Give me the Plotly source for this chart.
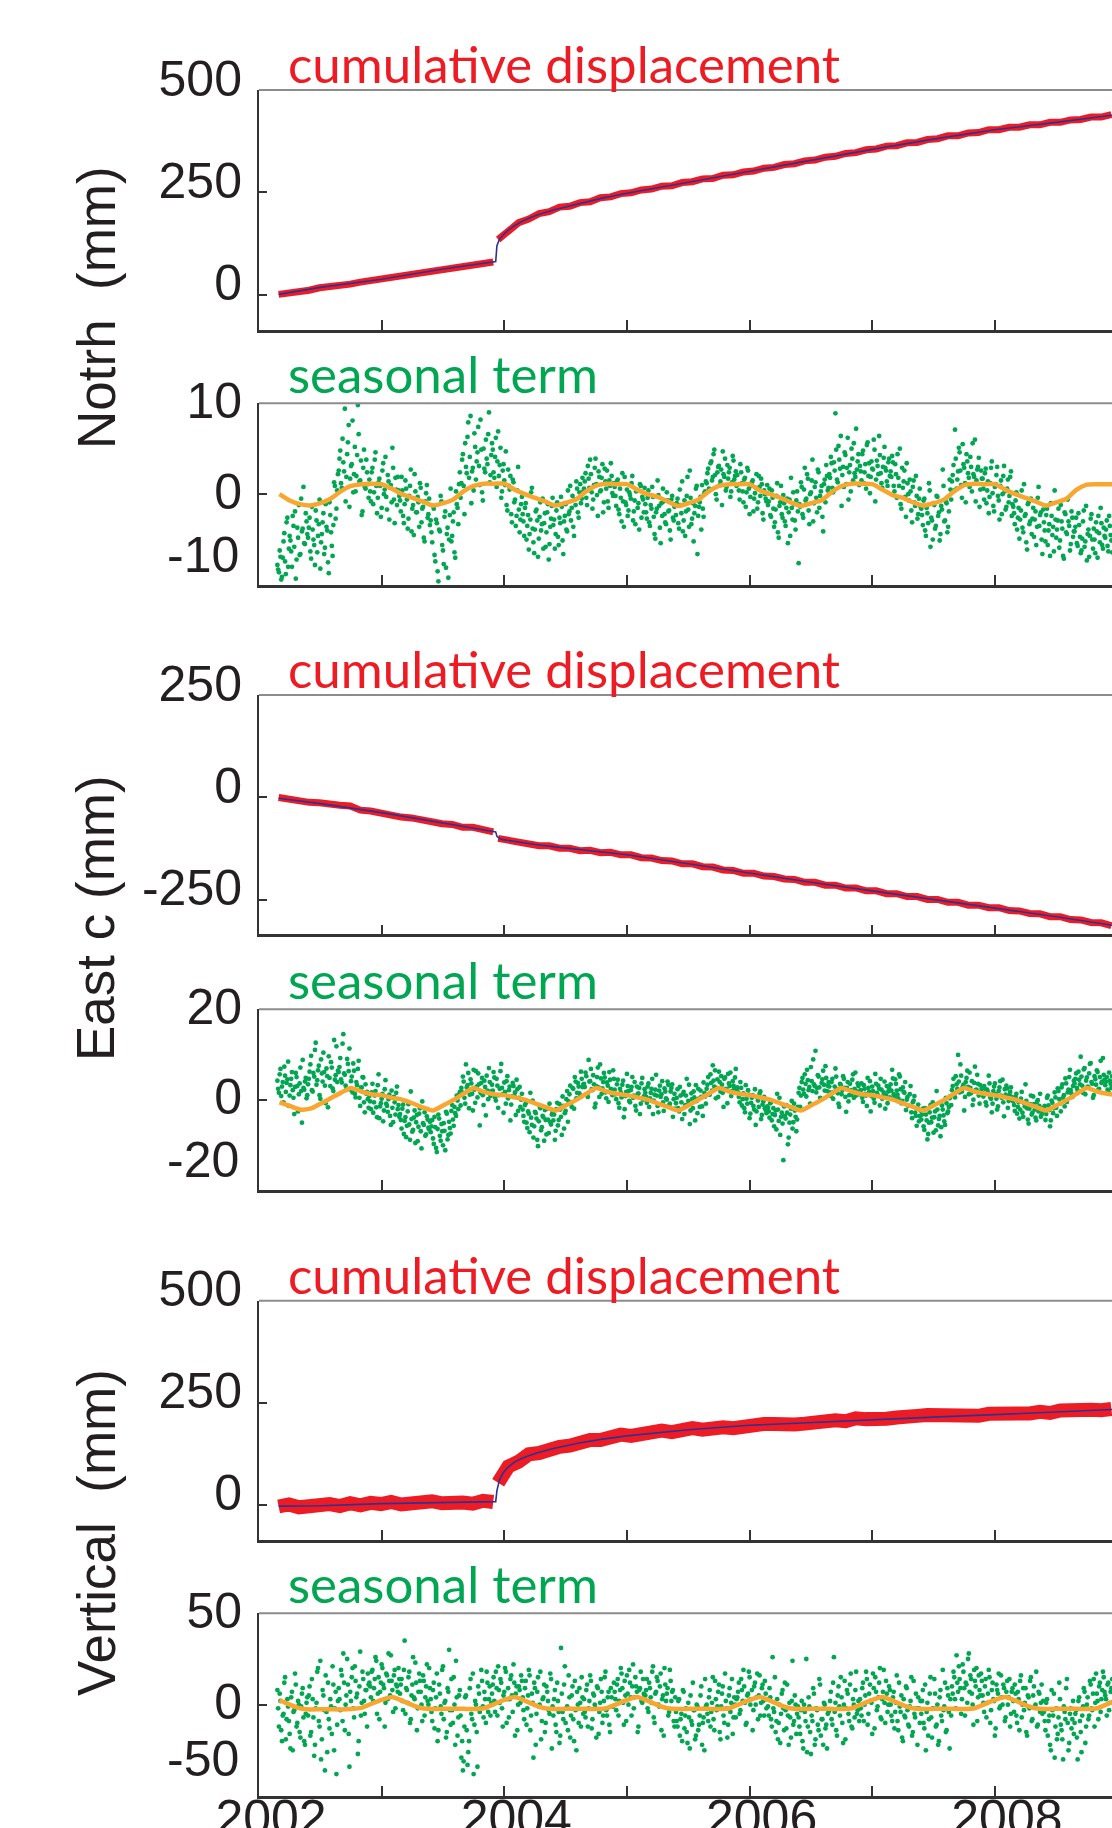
import plotly.graph_objects as go

# ------------------------------------------------------------------ data
YEARS = [2002, 2003, 2004, 2005, 2006, 2007, 2008, 2009]
YEAR_LABELS = ["2002", "", "2004", "", "2006", "", "2008", ""]

# blue: fitted trend + post-seismic model (mm)
model_t = [2002.16, 2002.5, 2003.0, 2003.5, 2003.93, 2003.94, 2003.96, 2003.99,
           2004.03, 2004.08, 2004.15, 2004.25, 2004.4, 2004.6, 2004.8, 2005.0,
           2005.5, 2006.0, 2006.5, 2007.0, 2007.5, 2008.0, 2008.5, 2009.0]
north_model = [1, 18, 38, 63, 81, 120, 135, 146, 157, 168, 180, 193, 207, 222,
               236, 248, 275, 301, 328, 355, 380, 403, 421, 440]
east_model = [-2, -15, -37, -62, -84, -95, -100, -103, -105, -108, -111, -115,
              -120, -127, -133, -140, -162, -185, -207, -228, -249, -269, -291, -314]
vert_model = [-3, -2, 3, 6, 8, 35, 60, 78, 92, 104, 115, 126, 138, 151, 161,
              169, 184, 195, 202, 209, 215, 221, 227, 234]

# red: observed cumulative displacement, monthly samples before / after the offset
OBS_PRE_START, OBS_POST_START = 2002.16, 2003.95
north_obs_pre = [1, 3, 9, 11, 17, 19, 24, 26, 31, 35, 37, 43, 45, 50, 55, 57, 63,
                 65, 71, 72, 78, 80]
north_obs_post = [135, 156, 176, 185, 198, 203, 214, 216, 225, 227, 237, 239, 247,
                  249, 256, 258, 265, 266, 274, 276, 283, 284, 292, 293, 300, 302,
                  309, 311, 318, 320, 327, 329, 336, 338, 345, 347, 354, 356, 363,
                  364, 371, 372, 379, 381, 388, 388, 395, 396, 403, 403, 409, 409,
                  415, 415, 421, 421, 427, 428, 434, 434, 440]
east_obs_pre = [0, -5, -7, -12, -13, -18, -19, -21, -31, -33, -39, -41, -48, -50,
                -56, -59, -64, -66, -73, -73, -79, -84]
east_obs_post = [-100, -104, -112, -112, -118, -118, -124, -124, -130, -129, -135,
                 -134, -140, -140, -147, -148, -154, -155, -162, -162, -169, -170,
                 -177, -178, -185, -185, -192, -193, -199, -200, -207, -207, -214,
                 -214, -221, -221, -228, -228, -235, -235, -242, -242, -249, -249,
                 -256, -256, -263, -263, -269, -269, -276, -277, -283, -284, -291,
                 -291, -298, -299, -305, -306, -313]
vert_obs_pre = [-4, 1, -6, -3, -8, 2, -3, 4, -1, 5, 2, 7, 1, 6, 3, 9, 4, 8, 6, 3,
                10, 7]
vert_obs_post = [54, 94, 106, 124, 127, 138, 142, 145, 156, 159, 159, 166, 172, 169,
                 175, 175, 182, 178, 184, 188, 184, 190, 190, 188, 193, 198, 198,
                 198, 194, 197, 199, 203, 208, 207, 205, 212, 210, 207, 211, 214,
                 212, 218, 220, 219, 217, 215, 220, 218, 223, 222, 220, 225, 224,
                 228, 225, 231, 229, 227, 233, 232, 235]

# orange: fitted seasonal term, monthly from 2002.1667 (one row per calendar year)
FIT_START = 2002.1667
north_fit = [
    [0.0, -0.7, -1.1, -1.25, -1.0, -0.5, 0.3, 0.9, 1.1, 1.15],
    [1.1, 0.6, 0.0, -0.4, -0.8, -1.25, -1.0, -0.6, 0.3, 0.9, 1.15, 1.15],
    [1.15, 0.5, 0.0, -0.4, -0.8, -1.25, -0.95, -0.6, 0.3, 0.95, 1.15, 1.1],
    [1.1, 0.5, 0.0, -0.3, -0.8, -1.3, -1.0, -0.6, 0.3, 0.9, 1.1, 1.1],
    [1.1, 0.4, 0.0, -0.4, -0.9, -1.3, -1.0, -0.7, 0.2, 0.9, 1.15, 1.15],
    [1.1, 0.5, -0.1, -0.4, -0.9, -1.25, -1.0, -0.6, 0.3, 1.0, 1.15, 1.1],
    [1.1, 0.5, 0.0, -0.4, -0.8, -1.25, -0.9, -0.5, 0.5, 1.05, 1.1, 1.1],
    [1.1],
]
east_fit = [
    [-0.6, -1.4, -2.2, -2.0, -0.9, 0.3, 1.5, 2.6, 1.8, 1.2],
    [1.0, 0.4, 0.0, -0.8, -1.7, -2.4, -1.3, -0.1, 1.3, 2.6, 1.7, 1.2],
    [1.0, 0.5, 0.0, -0.8, -1.6, -2.4, -1.3, -0.1, 1.3, 2.6, 1.8, 1.3],
    [1.0, 0.5, 0.0, -0.8, -1.6, -2.4, -1.3, 0.0, 1.3, 2.6, 1.8, 1.3],
    [1.0, 0.5, 0.0, -0.8, -1.6, -2.4, -1.3, -0.1, 1.3, 2.6, 1.8, 1.2],
    [1.0, 0.5, 0.0, -0.8, -1.6, -2.4, -1.3, -0.1, 1.3, 2.6, 1.8, 1.3],
    [1.0, 0.5, 0.0, -0.8, -1.6, -2.4, -1.3, -0.1, 1.3, 2.6, 1.8, 1.3],
    [1.0],
]
vert_fit = [
    [2.4, 0.0, -2.0, -2.6, -2.5, -2.5, -2.6, -2.4, -1.8, 0.5],
    [2.6, 4.2, 2.2, -0.2, -2.0, -2.4, -2.3, -2.2, -2.3, -2.4, -2.0, 0.3],
    [2.6, 4.2, 2.2, -0.2, -2.0, -2.4, -2.3, -2.2, -2.3, -2.4, -2.0, 0.3],
    [2.6, 4.2, 2.2, -0.2, -2.0, -2.4, -2.3, -2.2, -2.3, -2.4, -2.0, 0.3],
    [2.6, 4.2, 2.2, -0.2, -2.0, -2.4, -2.3, -2.2, -2.3, -2.4, -2.0, 0.3],
    [2.6, 4.2, 2.2, -0.2, -2.0, -2.4, -2.3, -2.2, -2.3, -2.4, -2.0, 0.3],
    [2.6, 4.2, 2.2, -0.2, -2.0, -2.4, -2.3, -2.2, -2.3, -2.4, -2.0, 0.3],
    [2.6],
]

# green: seasonal residuals, two interleaved sample sets (A on the grid, B half a
# step later), 80 samples per year each from 2002.15; one row = a quarter year
SEAS_START, SEAS_PER_YEAR = 2002.15, 80
north_seas_a = [
    [-7.8, -8.6, -6.9, -9.1, -5.2, -7.4, -3.1, -8.0, -4.6, -6.3, -2.4, -5.8, -9.3, -3.7, -1.2, -6.6, -4.1, 0.8, -5.5, -3.0],
    [-4.8, -2.6, -7.1, -3.9, -5.6, -1.8, -6.4, -3.3, -8.2, -4.4, -2.1, -5.9, -3.6, -7.5, -0.9, -4.2, -6.8, 1.3, -2.7, 0.4],
    [2.6, 4.8, 0.7, 3.5, 9.4, 1.9, 5.7, -1.4, 3.1, 8.1, 2.2, 0.3, 4.3, 6.6, 1.5, -2.3, 2.9, 0.8, 3.8, 1.1],
    [1.6, -0.8, 2.9, 0.2, 4.6, -2.1, 1.3, 0.9, -1.5, 3.4, 0.5, -0.3, 2.1, -2.8, 1.0, 5.1, -0.6, 1.8, -1.2, 0.4],
    [-0.7, 1.9, -2.4, -1.1, 0.6, -3.8, -0.2, 2.7, -1.6, -4.5, 0.3, -2.0, -0.9, 1.2, -3.1, -1.4, -5.2, 0.1, -2.6, -0.5],
    [-2.9, -5.3, -1.6, -7.4, -3.2, -9.6, -4.1, -0.8, -6.2, -2.5, -8.1, -3.7, -5.0, 0.6, -4.6, -2.0, -7.0, -1.1, -3.3, 2.4],
    [1.2, 4.4, -2.2, 3.0, 6.3, 1.8, 8.6, 2.5, 0.4, 5.2, 3.6, 7.4, 1.0, 4.9, -0.7, 2.8, 6.0, 3.3, 9.0, 2.1],
    [5.6, 2.4, 4.1, 0.8, 6.9, 3.2, -0.4, 2.6, 1.5, 4.7, -1.8, 0.9, 2.0, -3.1, 1.3, -0.6, -2.4, 3.0, -4.2, -1.1],
    [-2.2, -4.6, -1.0, -3.5, -6.1, -2.8, 0.7, -5.3, -3.9, -1.7, -6.9, -2.5, -4.0, -0.5, -3.2, -5.8, -2.0, -7.2, -3.6, -1.3],
    [-3.4, -6.0, -1.8, -4.7, -2.6, -0.3, -5.1, -3.0, -1.1, -4.1, -2.2, 0.9, -1.5, -3.6, -0.6, 1.4, -2.0, 0.2, -1.0, 1.8],
    [0.6, 2.3, -1.2, 1.7, 3.8, 0.2, -0.6, 2.9, 1.1, -2.4, 1.9, 0.4, 3.3, -0.9, 1.4, 2.6, -1.5, 0.9, 2.0, -0.2],
    [0.8, -1.3, 1.6, -2.2, -0.4, 2.3, -3.6, -0.9, 0.5, -1.8, -0.1, 1.2, -2.9, -0.7, 0.3, -1.5, -3.9, 0.9, -0.3, -2.0],
    [-1.1, -2.7, 0.4, -3.5, -1.6, -0.3, -4.4, -2.0, 1.5, -1.3, -5.4, -2.4, -0.8, -3.1, 0.2, -1.9, -4.0, -0.6, -2.6, -1.4],
    [-2.3, -0.5, -3.8, -1.2, 1.4, -2.9, -4.6, -0.2, -1.7, 2.6, -3.3, -1.0, -2.1, 0.6, -6.6, -1.4, -0.3, 1.0, -2.5, 0.3],
    [1.2, 2.8, 0.5, 3.6, 1.9, 4.9, 0.0, 2.4, 3.1, 1.4, -1.2, 2.2, 3.9, 0.8, 1.7, 2.9, 0.3, 4.2, 1.6, 2.5],
    [2.1, 0.4, 3.3, 1.2, -0.9, 1.8, 0.2, 2.6, -2.2, 0.9, 1.5, -0.5, 0.7, -1.6, 2.0, -0.2, 1.1, -2.8, 0.0, -0.8],
    [-1.2, 0.6, -2.5, -0.4, -3.6, -1.7, 1.2, -4.8, -0.9, -2.2, -0.1, -3.0, -1.5, -5.4, -0.6, 1.8, -2.8, -1.1, -3.9, 0.3],
    [-7.6, -1.4, 0.8, -2.6, 2.9, -0.5, 1.7, -3.3, 0.2, 3.8, -1.0, 1.3, -2.0, 2.4, -0.2, 0.9, -4.1, 1.6, 3.2, 0.4],
    [2.2, 4.1, 0.7, 3.5, 8.9, 1.6, 5.3, 2.8, -1.3, 3.0, 4.6, 1.1, 6.2, 2.4, 0.3, 3.9, 5.6, 1.9, 2.7, 4.4],
    [3.1, 1.5, 4.8, 2.4, 0.6, 5.7, 3.4, 1.9, 2.8, 6.0, -0.8, 3.7, 2.2, 4.3, 1.2, 3.0, 5.2, 2.6, 0.9, 3.9],
    [2.5, 4.2, 0.9, 3.3, -0.4, 1.8, 5.0, -1.6, 0.7, 2.6, -2.5, 1.2, -0.7, 0.3, -3.1, 1.5, -1.3, -0.2, -2.2, 0.6],
    [-1.6, -3.4, -0.5, -4.6, -2.1, 1.2, -5.8, -2.9, -1.0, -3.8, -0.2, -2.4, -5.1, -1.3, 2.7, -3.0, -0.8, -4.2, -1.9, 0.5],
    [1.4, 3.2, 7.1, 0.6, 2.5, 4.6, 1.0, 5.5, 2.9, -0.9, 3.6, 1.8, 4.1, 0.3, 2.2, 6.0, 1.5, 3.0, -1.4, 2.6],
    [1.7, -0.6, 2.8, 0.4, -2.1, 1.2, 3.6, -1.3, 0.8, 2.1, -0.2, -2.8, 1.5, 0.0, 3.1, -1.7, 0.6, -0.9, 1.9, -2.4],
    [-1.4, -3.3, 0.2, -2.6, -4.9, -1.8, -3.7, 1.1, -2.2, -6.1, -0.9, -3.0, -4.4, -1.5, -2.8, -5.6, -0.4, -3.5, -2.0, -6.6],
    [-3.1, -5.2, -1.6, -4.0, -6.8, -2.4, -3.6, 0.4, -4.8, -2.9, -5.9, -1.2, -3.8, -7.1, -2.2, -4.4, -3.0, -6.2, -1.9, -4.7],
    [-4.1, -2.6, -5.7, -3.4, -6.5, -4.9, -1.8, -5.2, -7.3, -3.9, -4.6, -2.2, -6.0, -5.0, -3.1, -7.0, -4.3, -1.5, -5.6, -3.7],
    [-4.8, -2.9, -6.3, -3.5, -5.1],
]
north_seas_b = [
    [-8.3, -6.2, -9.4, -7.0, -4.3, -8.8, -2.6, -6.0, -5.1, -8.0, -3.5, -1.9, -7.2, -4.8, -6.7, -0.5, -3.8, -5.4, -2.1, -4.4],
    [-3.7, -6.3, -1.4, -5.0, -7.8, -2.9, -4.6, -0.6, -5.3, -3.1, -6.6, -1.1, -4.0, -8.7, -2.3, -5.7, -3.4, 0.9, -1.6, 2.2],
    [3.9, 1.2, 6.1, 2.5, -0.8, 4.4, 7.6, 1.7, 3.3, 0.2, 5.2, 2.0, 9.8, 1.4, 3.7, -1.9, 4.9, 0.6, 2.4, -0.4],
    [0.3, 2.4, -1.1, 3.8, 0.9, -0.4, 1.7, -2.5, 2.6, 0.0, 4.1, -1.7, 1.4, 0.7, -0.9, 2.9, -3.2, 0.5, 1.9, -0.2],
    [-1.9, 0.4, -3.2, 1.5, -0.6, -2.7, 0.9, -4.1, -1.2, 2.2, -2.0, -0.3, -3.6, 0.7, -1.6, -4.8, -0.8, 1.0, -2.2, -3.4],
    [-4.2, -1.3, -6.7, -2.8, -8.5, -3.9, -0.2, -5.6, -7.7, -1.9, -4.4, -9.2, -2.3, -5.2, -3.0, -6.4, 0.3, -1.5, 1.1, -0.4],
    [3.8, 0.9, 5.6, 2.3, 7.9, 4.1, -1.0, 2.9, 6.7, 1.6, 4.6, 3.1, 8.2, 0.2, 5.0, 2.4, 3.9, 6.6, 1.3, 4.3],
    [4.9, 1.8, 6.2, 3.6, 2.0, 5.1, 0.3, 3.3, 1.0, -1.2, 2.7, 0.5, -2.2, 1.6, -0.9, -3.5, 0.4, -1.7, -2.8, -0.3],
    [-3.0, -1.5, -5.0, -2.3, -4.4, 0.2, -3.8, -6.5, -1.9, -2.9, -4.9, -0.9, -3.3, -6.0, -2.1, -4.2, -1.1, -5.5, -2.7, -0.4],
    [-2.8, -4.4, -0.9, -5.6, -3.2, -1.4, -6.6, -2.4, -3.9, 0.4, -1.9, -2.9, -0.2, -4.6, -1.2, 0.6, -2.6, 1.1, -0.5, 0.3],
    [1.4, -0.4, 3.1, 0.7, 2.2, -1.6, 1.0, 3.9, -0.1, 2.5, 0.3, 1.8, -2.0, 2.8, 0.6, -0.8, 1.5, 3.4, 0.1, 1.2],
    [-0.2, 1.4, -1.7, 0.6, -3.0, -0.8, 1.9, -1.2, -2.4, 0.2, -0.5, 2.0, -1.9, -3.3, 0.4, -1.0, 1.1, -2.6, -0.6, 0.7],
    [-2.0, -0.4, -3.1, -1.2, 0.8, -2.5, -4.9, -1.6, -0.1, -3.7, -1.0, 0.6, -2.2, -3.3, -0.7, -1.8, -5.0, -0.2, -2.9, -1.1],
    [-1.0, -3.2, 0.5, -2.1, -4.1, -0.7, -1.9, 1.9, -3.6, -0.4, -2.7, -5.2, -1.3, 0.9, -2.4, -0.9, -3.9, -1.6, 0.1, 1.4],
    [2.3, 0.6, 3.4, 1.5, 4.4, 2.1, -0.6, 3.0, 1.0, 2.7, 4.7, 1.9, 0.4, 3.2, 2.4, -0.3, 1.3, 3.7, 2.0, 0.9],
    [1.1, -0.6, 2.4, 0.3, 1.6, -1.4, 2.9, 0.6, -0.3, 1.3, -1.9, 0.1, 2.2, -0.9, 0.8, 1.7, -2.1, 0.4, -0.5, 1.0],
    [-0.8, -2.3, 0.4, -1.6, -3.1, -0.2, -4.2, -1.3, 0.9, -2.6, -1.0, -3.5, -0.5, -2.0, -4.6, -1.5, 0.2, -2.9, -0.7, -1.9],
    [-1.1, 1.3, -2.2, 0.5, -0.7, 2.2, -1.8, 0.0, 1.5, -3.0, 0.8, -0.4, 2.7, -1.5, 0.3, -2.5, 1.1, -0.9, 2.0, 0.7],
    [1.8, 3.4, 0.2, 2.6, 4.9, 1.3, 3.8, 6.4, 2.1, 0.8, 4.3, 2.9, -0.6, 3.2, 5.0, 1.5, 2.3, 7.2, 3.6, 1.0],
    [2.5, 4.4, 1.2, 3.3, 5.4, 2.0, 0.1, 3.6, 2.7, 4.9, 1.6, 3.1, 6.4, 2.3, 0.7, 4.0, 2.9, 1.4, 3.5, 2.0],
    [1.9, 3.5, 0.3, 2.2, 4.4, 0.9, -1.1, 2.9, 1.4, -0.3, 3.4, 0.0, 1.6, -1.8, 0.8, -0.9, 2.0, -2.7, -0.5, -1.4],
    [-2.3, -0.7, -4.0, -1.5, -3.2, 0.4, -2.6, -5.0, -1.2, -3.5, -0.3, -2.0, -4.4, -1.7, 0.9, -2.9, -1.0, -3.6, 1.6, -0.6],
    [2.1, 0.4, 3.9, 1.6, 5.1, 2.6, -0.4, 3.3, 1.2, 4.4, 2.3, 0.8, 3.0, 5.6, 1.9, -0.8, 2.7, 4.0, 0.5, 1.7],
    [0.6, 2.3, -1.0, 1.4, -0.3, 2.9, 0.1, -1.9, 1.1, 3.0, -0.7, 0.9, -2.2, 2.0, 0.3, -1.4, 1.6, -0.2, 2.5, -1.1],
    [-2.1, -0.7, -3.9, -1.5, -2.8, 0.4, -4.2, -2.4, -5.3, -1.1, -3.3, -0.5, -2.7, -4.7, -1.9, -3.6, 0.8, -2.3, -5.0, -1.7],
    [-4.0, -2.3, -5.6, -3.3, -1.0, -4.5, -6.3, -2.8, -3.9, -1.6, -5.1, -3.0, -6.8, -2.0, -4.2, -0.6, -3.5, -5.5, -2.6, -4.1],
    [-3.6, -5.4, -2.1, -4.7, -6.2, -3.0, -5.8, -1.3, -4.4, -6.9, -2.7, -5.0, -3.8, -6.5, -4.1, -2.4, -5.3, -3.2, -6.0, -4.6],
    [-3.9, -5.7, -2.4, -4.5, -6.4],
]
east_seas_a = [
    [4.2, 1.5, 6.8, 2.9, -0.6, 5.3, 3.7, 8.4, 0.9, 4.6, 2.1, -3.2, 5.9, 3.0, 1.2, 7.1, -5.1, 2.6, 4.0, 0.3],
    [3.4, 6.2, 9.7, 1.8, 5.1, 12.6, 4.3, 7.5, 0.2, 5.8, 10.4, 3.1, 6.9, -1.7, 4.8, 8.3, 2.5, 13.2, 5.4, 3.9],
    [6.1, 9.2, 3.8, 14.5, 5.5, 2.4, 7.9, 11.3, 4.1, 1.6, 6.4, 0.5, 3.2, 8.6, -1.4, 2.7, 4.9, -2.8, 1.3, 0.1],
    [0.8, -2.1, 3.5, -0.6, 1.9, -3.9, 5.6, -1.5, 0.2, -4.8, 2.3, -0.9, -2.7, 1.1, -5.6, -1.8, 0.6, -3.3, 2.9, -1.2],
    [-3.2, -6.4, -1.1, -4.7, -8.3, -2.6, -5.5, 1.8, -7.1, -4.0, -9.6, -3.4, -6.0, -1.9, -10.8, -5.2, -2.8, -7.7, -4.4, -6.6],
    [-7.2, -4.5, -9.8, -6.1, -11.6, -3.3, -8.0, -5.4, -10.1, -6.9, -2.7, -8.8, -4.9, -7.5, -1.2, -5.8, -3.0, 0.9, -2.1, 1.7],
    [2.6, 5.1, 0.4, 7.8, 3.2, -1.9, 4.5, 1.3, 6.6, -0.7, 2.9, 5.8, -5.7, 3.7, 1.0, 4.2, -3.5, 2.0, 7.0, 0.8],
    [3.3, 6.1, 0.5, 4.6, -1.8, 2.4, 7.9, 1.2, 3.8, -0.9, 5.2, 2.1, -4.6, 0.7, 3.0, 1.6, 4.4, -2.5, 2.8, 0.0],
    [-2.2, -4.9, -0.8, -6.3, -3.1, 1.5, -5.6, -8.4, -2.7, -4.2, -10.3, -1.4, -6.8, -3.6, -9.1, -4.5, -2.0, -7.4, -5.0, -3.3],
    [-4.6, -8.9, -2.1, -5.7, -1.0, -3.8, 0.7, -6.4, -2.5, 1.9, -0.4, 3.1, -1.6, 2.4, 5.0, 0.3, 3.7, 1.4, 6.2, 2.8],
    [3.5, 6.0, 1.2, 8.8, 4.1, 2.3, 5.4, -1.7, 3.0, 7.1, 0.6, 4.7, 2.5, 5.9, 1.6, 3.8, -0.5, 4.4, 2.0, 6.5],
    [2.2, 0.1, 4.4, -1.8, 1.6, 3.3, -3.9, 0.8, 5.7, 1.9, -0.6, 2.8, 0.4, 3.9, -2.4, 1.2, 2.6, -0.9, 4.8, 0.7],
    [1.5, -0.7, 3.6, 0.3, 2.4, -3.2, 1.1, 5.5, -1.4, 2.0, 0.6, 4.1, -2.5, 1.8, 0.0, 3.3, -0.9, 2.6, -3.8, 1.3],
    [-0.8, 2.3, -2.6, 0.9, -4.3, 1.7, -1.2, 4.6, -0.3, -5.4, 1.4, -1.9, 0.5, 3.2, -3.0, 0.2, 2.0, -1.5, 3.8, 0.7],
    [2.4, 5.0, 1.1, 3.7, 7.6, 2.9, 0.3, 4.5, 6.2, 1.8, 3.3, -1.6, 4.9, 2.2, 5.7, 3.0, 0.8, 4.1, 2.6, 6.8],
    [2.7, 0.6, 3.9, -1.3, 1.4, -2.8, 0.2, 2.1, -4.1, -0.7, 1.0, -2.2, -5.6, 0.5, -1.6, 1.8, -3.4, -0.4, -1.9, -3.0],
    [-1.8, -4.0, -0.6, -3.2, -5.9, -2.4, 1.3, -4.7, -7.8, -2.9, -13.4, -3.6, -1.2, -9.9, -5.1, -2.0, -6.4, -0.9, -3.8, -4.4],
    [1.5, -1.6, 3.9, 2.2, 5.6, 0.7, 4.3, 2.8, 7.2, 1.9, 3.4, 10.8, 2.6, 5.1, 0.4, 3.7, 6.4, 2.0, 4.8, 3.1],
    [2.9, 0.8, 4.6, 1.7, 6.9, 2.3, -0.9, 3.5, 1.2, 5.2, 2.6, -2.7, 3.9, 1.0, 2.1, 4.4, 0.4, 6.0, 1.8, 3.0],
    [1.3, 3.6, -0.5, 2.4, 0.9, 4.8, 1.7, -2.6, 2.9, 0.2, 5.7, 1.5, 3.1, -1.3, 2.2, 0.7, 4.0, 1.0, -0.8, 2.6],
    [3.4, 6.6, 1.2, 4.5, 2.0, 0.3, 5.1, -0.8, 2.7, 1.5, -2.3, 0.6, -1.4, 3.0, -4.1, -0.2, -2.9, -5.8, -1.1, -3.6],
    [-4.4, -2.0, -6.7, -3.3, -8.8, -5.1, -1.2, -4.0, -7.3, -2.6, 1.9, -5.7, -3.6, -6.1, -2.2, -4.8, 0.4, -3.0, -1.6, 0.8],
    [2.1, 4.6, 0.5, 3.4, 9.9, 1.6, 5.3, 2.8, -2.4, 3.9, 6.4, 1.2, 2.6, 4.1, 0.0, 7.3, 2.2, 3.5, -0.9, 1.8],
    [1.4, 3.0, -0.6, 2.2, 5.3, 0.5, -2.8, 1.9, 3.6, 0.2, -1.5, 2.7, 0.9, 4.4, -3.7, 1.1, 2.5, -0.3, 1.7, 0.6],
    [-0.4, -2.5, 1.3, -1.6, -4.2, 0.2, -2.9, -0.8, 3.4, -1.9, -5.3, -1.0, -3.3, 0.7, -2.2, -4.6, -0.1, -1.4, -3.8, -2.6],
    [-2.1, -4.5, 0.4, -1.3, -5.9, -0.2, -3.0, 1.6, -1.8, 2.5, 0.1, -2.6, 3.4, 1.0, 4.7, -0.5, 2.2, 6.6, 1.3, 3.0],
    [3.6, 5.8, 2.0, 4.4, 9.5, 3.1, 6.7, 1.2, 4.9, 2.7, 7.9, 3.9, 0.4, 5.2, 3.3, 6.1, 2.4, 8.6, 4.0, 5.5],
    [3.2, 5.0, 1.8, 4.2, 2.6],
]
east_seas_b = [
    [2.4, 5.6, 0.8, 3.9, 7.3, 1.7, 4.5, -1.4, 3.2, 6.1, 0.4, 2.8, 5.0, -2.6, 3.6, 1.9, 8.8, 2.2, 4.8, 1.0],
    [4.6, 7.8, 2.1, 5.9, 11.0, 3.3, 6.5, 1.0, 8.9, 4.0, 6.1, -0.8, 5.2, 9.6, 3.0, 7.1, 1.9, 4.4, 11.8, 6.4],
    [7.2, 4.5, 12.4, 5.8, 3.1, 9.0, 6.3, 2.2, 5.1, 8.0, 1.3, 3.9, 6.8, 0.4, 2.6, 5.0, -0.6, 3.4, 1.7, -1.8],
    [-0.4, 1.6, -2.9, 0.9, -1.7, 3.2, -4.1, -0.8, 1.3, -2.4, 4.3, -1.4, 0.1, -3.6, 2.0, -5.0, -0.6, 1.5, -2.1, -3.8],
    [-4.5, -2.0, -7.6, -3.9, -5.8, -1.0, -8.9, -4.3, -6.7, -2.4, -5.0, -9.2, -3.1, -7.0, -0.4, -5.6, -8.0, -3.7, -6.2, -4.9],
    [-5.9, -8.6, -3.8, -10.7, -6.5, -4.2, -9.1, -7.0, -5.2, -11.2, -3.1, -7.8, -6.3, -2.5, -4.4, -1.6, -3.6, -0.2, 1.1, -1.3],
    [1.6, 4.0, -0.9, 2.7, 5.9, 1.1, 3.6, -2.4, 2.2, 6.3, 0.5, 3.4, 1.5, 4.8, -1.2, 2.8, 5.3, 0.1, 3.9, 1.8],
    [2.0, 4.9, -0.2, 3.1, 1.0, 6.3, 2.6, -2.9, 1.7, 4.1, 0.3, 2.9, -1.1, 3.7, 0.9, -3.4, 2.3, 0.4, -1.6, 1.3],
    [-3.6, -1.2, -5.1, -2.6, -7.2, -4.0, -0.2, -5.9, -3.0, -8.9, -4.8, -1.9, -6.1, -3.9, -2.3, -7.7, -4.4, -0.9, -5.5, -2.8],
    [-3.3, -6.9, -0.7, -4.5, -2.2, -7.8, -1.4, -3.0, 0.1, -4.9, 1.2, -0.9, 2.6, -2.0, 4.0, 1.5, 2.9, 0.6, 4.6, 3.3],
    [2.8, 5.2, 0.6, 4.0, 6.8, 2.1, 3.4, -0.9, 5.0, 2.7, 7.8, 1.3, 3.9, 4.9, 0.3, 3.1, 6.1, 2.4, 1.0, 4.6],
    [1.2, 3.4, -0.8, 2.4, 0.5, 4.2, -2.1, 1.7, 3.0, -0.3, 2.1, 5.0, 0.9, -1.4, 2.9, 1.4, -3.2, 3.6, 0.0, 2.3],
    [0.6, 2.9, -1.6, 1.5, 4.6, -0.2, 2.2, 0.9, -2.8, 3.1, 1.2, -0.6, 2.5, 0.3, 4.0, -1.2, 1.8, 3.4, 0.1, -2.0],
    [0.4, -1.9, 2.8, -0.6, 1.2, -3.2, 0.9, -1.2, 3.3, -2.4, 0.1, 1.8, -4.6, -0.3, 2.4, -1.6, 0.6, -3.6, 1.5, -0.9],
    [3.3, 1.2, 5.6, 2.0, 4.2, 6.5, 2.6, 0.6, 3.9, 5.2, 1.5, 4.6, 2.4, -0.8, 3.6, 6.0, 1.9, 3.1, 4.9, 2.2],
    [1.6, -0.6, 2.6, 0.1, -1.9, 3.2, -0.9, 1.1, -3.1, 0.4, -1.4, 2.3, -2.6, -0.2, 1.3, -4.3, -1.1, 0.6, -2.3, -1.5],
    [-2.6, -0.8, -4.6, -1.9, -3.4, -6.6, -2.2, 0.4, -3.8, -5.3, -1.5, -4.2, -2.9, -8.4, -3.3, -0.3, -5.0, -2.4, -7.0, -1.6],
    [2.6, 0.9, 4.8, 1.3, 3.5, 6.6, 2.1, -0.9, 4.1, 8.9, 3.0, 1.6, 5.4, 2.7, 0.2, 4.5, 3.3, 7.4, 1.9, 3.9],
    [1.6, 3.9, 0.2, 2.9, 5.1, 1.4, -1.6, 3.2, 2.1, 4.6, 0.6, 2.6, -0.4, 3.5, 1.1, 5.6, 2.4, 0.9, 3.6, 1.2],
    [2.1, 0.4, 3.2, 1.3, -1.4, 2.6, 4.1, 0.8, 1.9, -0.7, 3.5, 1.1, 2.4, 4.6, 0.2, 1.6, -2.0, 3.0, 1.8, 0.5],
    [2.0, 4.7, 0.6, 3.5, 1.1, 5.6, 2.3, -0.3, 1.7, 3.9, 0.0, -1.4, 1.2, -2.8, -0.6, 0.8, -3.6, -1.9, -4.8, -2.4],
    [-3.3, -5.9, -1.9, -4.6, -7.6, -2.8, -5.0, -0.6, -3.9, -6.8, -2.2, -4.3, -8.1, -1.3, -3.5, -5.6, -0.8, -2.6, 0.3, -1.2],
    [3.0, 1.1, 5.2, 2.4, 4.0, 7.8, 1.8, 3.3, 0.6, 4.8, 2.8, 6.0, 1.4, -1.2, 3.7, 2.1, 5.5, 0.9, 3.2, 2.5],
    [0.7, 2.4, -1.3, 1.6, 3.6, 0.2, -0.9, 2.9, 1.2, -2.2, 1.9, 4.1, 0.4, -0.6, 2.3, 3.1, -1.8, 1.0, 2.7, -0.2],
    [-1.2, 0.6, -3.1, -0.6, -2.2, 1.7, -3.8, -1.5, -0.3, -4.4, -2.0, 0.9, -2.9, -1.0, -4.0, -0.5, -2.6, 1.3, -3.3, -1.8],
    [-1.4, -3.2, 0.9, -2.3, -4.6, -0.7, -1.9, 0.5, -3.6, 1.9, -0.9, 2.7, 0.4, -1.5, 3.6, 1.6, 5.0, 2.1, 0.6, 4.2],
    [4.6, 2.6, 6.2, 3.4, 5.1, 1.5, 7.0, 4.2, 2.9, 5.8, 8.1, 3.5, 1.0, 4.5, 6.5, 2.2, 5.0, 3.7, 9.2, 4.4],
    [4.0, 2.2, 6.0, 3.5, 5.2],
]
vert_seas_a = [
    [8, -12, 2, -20, -5, 15, -8, -1, -16, 4, -25, -3, 11, -10, 0, -18, 6, -7, -22, 1],
    [-6, 10, -15, 3, -28, -2, 18, -9, 24, -19, 5, -36, -4, 12, -13, -1, 21, -25, 7, -11],
    [9, -3, 16, 28, -14, 5, 11, -34, 2, 20, -7, 13, 6, -20, 29, 1, 14, -5, 8, 17],
    [12, 4, 19, 9, 26, -5, 15, 7, 22, 11, -12, 17, 3, 13, 27, 8, 16, -2, 10, 20],
    [6, 14, -3, 35, 9, 1, 18, -8, 11, 4, 23, -14, 7, 13, 0, 16, -6, 10, 2, 20],
    [3, -9, 12, -2, 17, -14, 6, -5, 21, 1, -18, 9, 30, -11, -3, 15, -22, 4, -7, 8],
    [-29, -36, -12, 5, -33, -20, 14, -8, -38, 2, -15, 10, -4, 19, -1, 7, -10, 12, 3, -6],
    [6, 15, -4, 9, 21, 1, 12, -12, 7, 18, 3, -7, 14, 5, 22, -17, 10, 0, 8, 16],
    [4, -8, 13, -2, 19, -14, 6, -29, 9, -5, 15, 0, -19, 3, 11, -10, 7, -3, 17, -24],
    [-6, 8, -15, 2, -21, 31, -4, 11, -10, -1, 16, -18, 5, -8, 13, -25, 0, 9, -12, 4],
    [3, -7, 11, -2, 16, -13, 6, 0, -18, 9, -4, 14, -10, 2, 18, -6, 7, -15, 4, -1],
    [7, -3, 14, 2, 20, 9, -11, 5, 16, 0, 12, -6, 22, 4, 10, -15, 8, 18, 1, 6],
    [5, 14, -4, 9, 1, 21, -10, 7, 13, -1, 17, 3, -17, 11, 6, -6, 19, 2, 8, -12],
    [-4, -12, 3, -8, -20, 7, -6, -15, 1, -24, -9, 12, -3, -17, -1, -11, 5, -22, -7, 14],
    [0, -9, 8, -4, 15, -14, 3, -1, 11, -19, 6, -6, 17, -2, -11, 9, 1, -16, 4, -7],
    [4, 12, -3, 8, 19, 1, -10, 6, 15, 3, -14, 10, 0, 17, 5, -6, 9, 2, 13, -2],
    [-1, 9, -8, 26, -4, -15, 3, -10, -21, 6, -2, 12, -13, -6, 1, -18, 24, -9, 0, -5],
    [-7, -16, 2, -24, -4, 25, -12, -1, -27, -9, 6, -19, -3, -14, 11, -8, -22, 0, -11, -5],
    [-3, 7, -11, 26, 1, -17, 10, -6, 4, -21, 13, -2, 6, -9, 17, -13, 0, 8, -5, 2],
    [3, -6, 12, 0, 18, -11, 6, 2, -16, 9, 15, -3, 4, 20, -8, 7, 1, 13, -4, 10],
    [0, -9, 7, -4, 16, -14, -1, 5, -20, -6, 10, -3, -12, 2, -17, 13, -7, -2, 4, -10],
    [-5, 8, -13, -25, 1, -8, 15, -18, -2, 6, -11, -22, 4, -6, 19, -1, -15, 9, -4, 3],
    [10, 18, 3, 27, 7, 14, -5, 22, 9, 12, 1, 28, 16, 6, -11, 13, 20, 4, 8, 17],
    [5, -4, 14, 1, 19, -10, 8, 3, -17, 11, 6, -2, 16, 0, 9, -7, 13, 4, -12, 7],
    [2, 11, -6, 7, -14, 16, 0, -3, 9, -17, 4, 13, -9, 5, -1, 18, -11, 6, 1, -5],
    [-4, -14, 3, -9, -22, 8, -6, -29, -2, -16, 12, -11, -19, -1, -8, 14, -25, -5, -13, 2],
    [-10, -3, -30, 4, -15, -6, 9, -21, 0, -8, 13, -2, 6, -12, 17, 2, 10, -4, 8, 15],
    [5, -6, 12, 1, 9],
]
vert_seas_b = [
    [-2, 6, -14, -6, 12, -19, 3, -9, -24, 7, -4, 17, -12, 2, -15, -1, 9, -20, -5, 4],
    [5, -17, 14, -7, -22, 1, 20, -12, -30, 8, -3, 16, -26, -8, 3, -16, 11, -2, -38, 2],
    [3, 19, -9, 12, 0, 25, -16, 7, 15, -2, 21, 4, -27, 10, -6, 18, 2, 8, -12, 11],
    [10, 18, 2, 14, 24, 6, -8, 12, 20, 9, 1, 16, 28, 5, 13, -4, 19, 11, 7, 14],
    [11, 2, 19, -5, 8, 15, -10, 5, 26, 3, 12, -2, 17, 7, -9, 13, 4, 22, 0, 9],
    [-4, 8, -13, 4, -20, 11, -1, 19, -8, 2, -15, 7, -3, 14, -10, 0, 24, -17, 5, -6],
    [-20, -31, 4, -14, -26, 9, -5, 17, -11, 0, -34, 6, -2, 13, -7, 3, 18, -4, 10, 1],
    [11, 2, 18, -6, 8, 14, -2, 5, 20, -10, 9, 3, 16, -4, 12, 6, -14, 10, 1, 13],
    [-3, 9, -11, 5, 16, -6, 1, 12, -22, 7, -1, 18, -9, 4, -15, 10, 2, -5, 14, -1],
    [3, -11, 12, -4, -17, 6, -8, 21, -2, -14, 4, -6, 10, -20, -3, 7, -10, 1, 15, -5],
    [-4, 8, -12, 2, 13, -8, 5, -2, 10, -16, 1, 7, -6, 15, -3, 4, -11, 9, -1, 12],
    [3, 11, -6, 8, 17, 1, 13, -9, 6, 19, 4, 10, -2, 15, 7, -12, 9, 2, 14, 5],
    [8, -2, 12, 4, 18, -7, 6, 15, 0, 10, -14, 5, 20, 2, 9, -4, 13, 7, -9, 4],
    [-9, 2, -17, -5, 8, -13, -2, -21, -7, 5, -11, -3, -19, 0, -14, -6, 10, -10, -25, -1],
    [-5, 4, -12, 1, -8, 13, -3, 7, -15, -1, 10, -10, 2, -18, 5, -4, 14, -7, 0, 3],
    [7, -5, 14, 2, 10, -11, 5, 18, 0, 8, -3, 12, 4, -8, 16, 1, 11, -6, 6, 3],
    [-6, 4, -12, -2, 15, -9, -19, 0, -5, 8, -14, -3, 11, -22, -7, 2, -11, 5, -16, -1],
    [-12, -3, -20, 0, -9, -26, 4, -15, -6, 9, -22, -2, -11, 14, -17, -8, 1, -13, -24, -4],
    [2, -8, 12, -4, -14, 5, -1, 15, -10, 0, -19, 8, -5, 11, -12, 3, -7, 18, -3, -9],
    [-2, 9, -9, 5, 14, -5, 11, 1, 17, -13, 7, -1, 12, -7, 3, 19, -10, 6, 0, 8],
    [-6, 4, -13, 1, -9, 12, -4, -18, 3, -7, 9, -11, -1, 15, -15, -5, 6, -22, -2, 2],
    [2, -10, 11, -4, -17, 6, -7, -2, 14, -12, 0, -20, 8, -9, -3, 12, -14, 5, -24, -6],
    [6, 15, -2, 12, 21, 9, 3, 18, -6, 11, 25, 7, 14, 0, 19, 10, -9, 16, 5, 13],
    [1, 10, -7, 6, 15, -3, 12, 2, -13, 8, 17, -1, 4, 11, -9, 7, 0, 14, -5, 9],
    [-4, 6, -10, 3, 13, -7, 9, 1, -15, 5, -2, 15, -8, 10, 0, -12, 7, -4, 11, 2],
    [-9, 1, -17, -6, -25, -3, 6, -12, -19, -7, 3, -14, -30, -4, 9, -10, -21, -2, -8, -16],
    [-5, -18, 2, -9, -26, -1, 7, -12, 4, -6, 11, -3, 14, 1, 6, -8, 12, 3, 18, 7],
    [3, 11, -3, 7, 14],
]

AXIS_TITLES = ["Notrh\u00a0\u00a0(mm)", "East c (mm)", "Vertical\u00a0\u00a0(mm)"]
PANEL_TITLES = ["cumulative displacement", "seasonal term"]

# ------------------------------------------------------------------ helpers
def flat(rows):
    return [v for r in rows for v in r]

def monthly(start, n):
    return [start + k / 12 for k in range(n)]

def seas_times(n, offset):
    return [SEAS_START + (i + offset) / SEAS_PER_YEAR for i in range(n)]

# ------------------------------------------------------------------ layout geometry
W, H = 1112, 1828
ML, MR, MT, MB = 259, 0, 90, 32
PH = H - MT - MB
panel_px = [(90, 330), (403.3, 585), (695, 934.3), (1009.3, 1190),
            (1300.7, 1540), (1613.3, 1796)]
ranges = [[-86, 500], [-10, 10], [-334, 250], [-20, 20], [-86, 500], [-50, 50]]
ytick_vals = [[0, 250, 500], [-10, 0, 10], [-250, 0, 250], [-20, 0, 20],
              [0, 250, 500], [-50, 0, 50]]
low_label_raise = {2: 30, 4: 30, 6: 37}

def ydom(top, bot):
    return [(H - MB - bot) / PH, (H - MB - top) / PH]

RED, BLUE, GREEN, ORANGE = "#ed1c24", "#2e3192", "#00a651", "#f8a630"
INK = "#231f20"
TICK_FONT = dict(family="Liberation Sans, Arial, sans-serif", size=50, color=INK)
TITLE_FONT_FAMILY = "Lato, 'Open Sans', sans-serif"
XR = [2002, 2008.955]
Y_LABEL_GAP = 18

fig = go.Figure()

components = [
    (north_model, north_obs_pre, north_obs_post, north_fit, north_seas_a, north_seas_b),
    (east_model, east_obs_pre, east_obs_post, east_fit, east_seas_a, east_seas_b),
    (vert_model, vert_obs_pre, vert_obs_post, vert_fit, vert_seas_a, vert_seas_b),
]

for c, (mod, pre, post, fit, sa, sb) in enumerate(components):
    ic = 2 * c + 1      # cumulative panel index
    iseas = 2 * c + 2   # seasonal panel index
    lw = 14 if c == 2 else 7
    xa, ya = f"x{ic}", f"y{ic}"
    fig.add_trace(go.Scatter(x=monthly(OBS_PRE_START, len(pre)), y=pre, mode="lines",
                             line=dict(color=RED, width=lw), xaxis=xa, yaxis=ya,
                             showlegend=False, hoverinfo="skip"))
    fig.add_trace(go.Scatter(x=monthly(OBS_POST_START, len(post)), y=post, mode="lines",
                             line=dict(color=RED, width=lw), xaxis=xa, yaxis=ya,
                             showlegend=False, hoverinfo="skip"))
    fig.add_trace(go.Scatter(x=model_t, y=mod, mode="lines",
                             line=dict(color=BLUE, width=1.6), xaxis=xa, yaxis=ya,
                             showlegend=False, hoverinfo="skip"))
    xa, ya = f"x{iseas}", f"y{iseas}"
    for rows, off in ((sa, 0.0), (sb, 0.5)):
        s = flat(rows)
        fig.add_trace(go.Scatter(x=seas_times(len(s), off), y=s, mode="markers",
                                 marker=dict(color=GREEN, size=4.8, line=dict(width=0)),
                                 xaxis=xa, yaxis=ya, showlegend=False, hoverinfo="skip"))
    f = flat(fit)
    fig.add_trace(go.Scatter(x=monthly(FIT_START, len(f)), y=f, mode="lines",
                             line=dict(color=ORANGE, width=4.5, shape="spline", smoothing=0.6),
                             xaxis=xa, yaxis=ya, showlegend=False, hoverinfo="skip"))

layout = dict(width=W, height=H, autosize=False,
              margin=dict(l=ML, r=MR, t=MT, b=MB, pad=0, autoexpand=False),
              paper_bgcolor="white", plot_bgcolor="white",
              showlegend=False, shapes=[], annotations=[])

for i in range(1, 7):
    top, bot = panel_px[i - 1]
    seasonal = (i % 2 == 0)
    xkey = "xaxis" if i == 1 else f"xaxis{i}"
    ykey = "yaxis" if i == 1 else f"yaxis{i}"
    tv = ytick_vals[i - 1]
    # the lowest seasonal label is drawn raised above its tick (as in the original)
    tt = ["" if (seasonal and v == tv[0]) else str(v) for v in tv]
    layout[xkey] = dict(
        domain=[0, 1], anchor=f"y{i}", range=XR, tickmode="array",
        tickvals=YEARS, ticktext=YEAR_LABELS if i == 6 else [""] * len(YEARS),
        showticklabels=(i == 6), ticks="inside", ticklen=10, tickwidth=2,
        tickcolor="#333333", showline=True, linecolor="#333333", linewidth=2.5,
        showgrid=False, zeroline=False, tickfont=TICK_FONT, automargin=False,
        ticklabelshift=12, ticklabelstandoff=-24)
    layout[ykey] = dict(
        domain=ydom(top, bot), anchor=f"x{i}", range=ranges[i - 1],
        tickmode="array", tickvals=tv, ticktext=tt,
        ticks="inside", ticklen=8, tickwidth=2, tickcolor="#333333",
        showline=True, linecolor="#333333", linewidth=2,
        showgrid=False, zeroline=False, tickfont=TICK_FONT, automargin=False,
        ticklabelshift=-3 if seasonal else -12, ticklabelstandoff=5)
    xd = "x domain" if i == 1 else f"x{i} domain"
    yd = "y domain" if i == 1 else f"y{i} domain"
    layout["shapes"].append(dict(type="line", xref=xd, yref=yd, x0=0, x1=1, y0=1, y1=1,
                                 line=dict(color="#8c8c8c", width=2)))
    layout["annotations"].append(dict(
        text=PANEL_TITLES[1] if seasonal else PANEL_TITLES[0],
        xref=xd, yref=yd, x=0, y=1, xanchor="left", yanchor="bottom",
        xshift=27, yshift=-6 if not seasonal else -3, showarrow=False,
        font=dict(family=TITLE_FONT_FAMILY, size=51, color=GREEN if seasonal else RED)))
    if seasonal:
        layout["annotations"].append(dict(
            text=str(tv[0]), xref=xd, yref=f"y{i}", x=0, y=tv[0],
            xanchor="right", yanchor="middle", xshift=-Y_LABEL_GAP,
            yshift=low_label_raise[i], showarrow=False, font=TICK_FONT))

title_centers = [308, 918, 1533]
for t, cy in zip(AXIS_TITLES, title_centers):
    layout["annotations"].append(dict(
        text=t, xref="paper", yref="paper", x=(96 - ML) / (W - ML - MR),
        y=(H - MB - cy) / PH, xanchor="center", yanchor="middle", textangle=-90,
        showarrow=False, font=dict(family="Liberation Sans, Arial, sans-serif",
                                   size=53, color=INK)))

fig.update_layout(**layout)
fig.write_html("out.html")
